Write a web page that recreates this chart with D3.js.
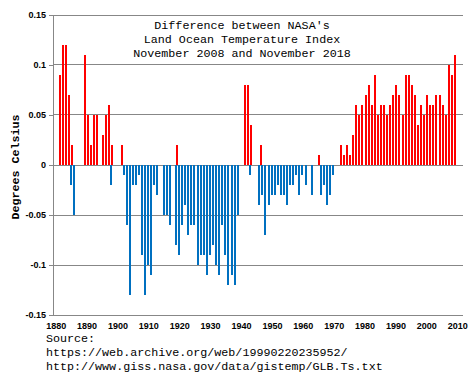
<!DOCTYPE html>
<html>
<head>
<meta charset="utf-8">
<script src="https://cdn.jsdelivr.net/npm/d3@7"></script>
<style>
  html, body { margin: 0; padding: 0; background: #fff; }
  svg { display: block; }
</style>
</head>
<body>
<svg id="chart" width="475" height="375"></svg>
<script>
// ---- data ----
const years = d3.range(1880, 2009); // 129 categories
// positive differences (red series), one per year
const positive = [
  0.09,0.12,0.12,0.07,0.02,0,0,0,0.11,0.05,
  0.02,0.05,0.05,0,0.03,0.05,0.06,0.02,0,0,
  0.02,0,0,0,0,0,0,0,0,0,
  0,0,0,0,0,0,0,0,0.02,0,
  0,0,0,0,0,0,0,0,0,0,
  0,0,0,0,0,0,0,0,0,0,
  0.08,0.08,0.04,0,0,0.02,0,0,0,0,
  0,0,0,0,0,0,0,0,0,0,
  0,0,0,0,0.01,0,0,0,0,0,
  0,0.02,0.01,0.02,0.01,0.03,0.06,0.05,0.06,0.07,
  0.08,0.06,0.09,0.05,0.06,0.06,0.05,0.06,0.07,0.08,
  0.07,0.05,0.09,0.09,0.08,0.07,0.04,0.06,0.05,0.07,
  0.06,0.06,0.07,0.07,0.06,0.05,0.10,0.09,0.11
];
// negative differences (blue series), one per year
const negative = [
  0,0,0,0,-0.02,-0.05,0,0,0,0,
  0,0,0,0,0,0,0,-0.02,0,0,
  0,-0.01,-0.06,-0.13,-0.02,-0.02,-0.01,-0.09,-0.13,-0.10,
  -0.11,-0.02,-0.03,0,-0.05,-0.05,-0.06,0,-0.08,-0.09,
  -0.06,-0.04,-0.07,-0.06,-0.06,-0.10,-0.09,-0.09,-0.11,-0.09,
  -0.08,-0.10,-0.11,-0.06,-0.09,-0.12,-0.11,-0.12,-0.05,0,
  0,0,-0.01,0,0,-0.04,-0.03,-0.07,-0.04,-0.03,
  -0.03,-0.02,-0.03,-0.03,-0.04,-0.02,-0.02,-0.01,-0.03,-0.01,
  -0.02,0,-0.03,0,0,-0.03,-0.02,-0.04,-0.03,-0.01,
  0,0,0,0,0,0,0,0,0,0,
  0,0,0,0,0,0,0,0,0,0,
  0,0,0,0,0,0,0,0,0,0,
  0,0,0,0,0,0,0,0,0
];
const yTicks = [-0.15, -0.1, -0.05, 0, 0.05, 0.1, 0.15];
const yTickLabels = ["-0.15", "-0.1", "-0.05", "0", "0.05", "0.1", "0.15"];
const xTickYears = d3.range(1880, 2011, 10);
const titleLines = ["Difference between NASA's", "Land Ocean Temperature Index", "November 2008 and November 2018"];
const yTitle = "Degrees Celsius";
const sourceLines = ["Source:", "https://web.archive.org/web/19990220235952/", "http://www.giss.nasa.gov/data/gistemp/GLB.Ts.txt"];

// ---- layout ----
const svg = d3.select("#chart");
const plotLeft = 53, plotRight = 463;
const y = d3.scaleLinear().domain([-0.15, 0.15]).range([314.5, 14.5]);
const xBand = d3.scaleBand().domain(years).range([57.7, 57.7 + 129 * 3.086]).paddingInner(0).paddingOuter(0);
const xSub = d3.scalePoint().domain(["neg", "pos"]).range([0, 1.3]);
const xLabel = d3.scaleLinear().domain([1880, 2010]).range([55.7, 457.2]);
const barW = 2;

const mono = "'Liberation Mono', 'Courier New', monospace";
const sans = "'Liberation Sans', Arial, sans-serif";

// gridlines
svg.append("g").selectAll("line").data(yTicks).join("line")
  .attr("x1", plotLeft).attr("x2", plotRight)
  .attr("y1", d => Math.round(y(d))).attr("y2", d => Math.round(y(d)))
  .attr("stroke", "#878787").attr("stroke-width", 1).attr("shape-rendering", "crispEdges");

// y axis
const yAxis = d3.axisLeft(y).tickValues(yTicks)
  .tickFormat((d, i) => yTickLabels[i]).tickSize(4).tickPadding(3);
const gy = svg.append("g").attr("transform", `translate(${plotLeft},0)`).call(yAxis);
gy.selectAll("path, line").attr("stroke", "#878787").attr("shape-rendering", "crispEdges");
gy.select(".domain").attr("d", `M0,${y(0.15)}V${y(-0.15)}`);
gy.selectAll("text").attr("font-family", sans).attr("font-size", 9).attr("font-weight", "bold").attr("fill", "#000");

// x axis labels
const xAxis = d3.axisBottom(xLabel).tickValues(xTickYears).tickFormat(d3.format("d")).tickSize(0).tickPadding(9);
const gx = svg.append("g").attr("transform", `translate(0,314)`).call(xAxis);
gx.select(".domain").remove();
gx.selectAll("text").attr("font-family", sans).attr("font-size", 9).attr("font-weight", "bold").attr("fill", "#000");

// bars
const bars = svg.append("g").attr("shape-rendering", "crispEdges");
bars.selectAll("rect.pos").data(years.map((yr, i) => ({yr, v: positive[i]})).filter(d => d.v > 0))
  .join("rect").attr("class", "pos")
  .attr("x", d => xBand(d.yr) + xSub("pos"))
  .attr("width", barW)
  .attr("y", d => y(d.v))
  .attr("height", d => y(0) - y(d.v))
  .attr("fill", "#FF0000");
bars.selectAll("rect.neg").data(years.map((yr, i) => ({yr, v: negative[i]})).filter(d => d.v < 0))
  .join("rect").attr("class", "neg")
  .attr("x", d => xBand(d.yr) + xSub("neg"))
  .attr("width", barW)
  .attr("y", y(0))
  .attr("height", d => y(d.v) - y(0))
  .attr("fill", "#0070C0");

// title
svg.append("g").selectAll("text").data(titleLines).join("text")
  .attr("x", 242).attr("y", (d, i) => 29 + i * 14)
  .attr("text-anchor", "middle")
  .attr("font-family", mono).attr("font-size", 11.7)
  .attr("fill", "#000").text(d => d);

// y title
svg.append("text")
  .attr("transform", "translate(19,167) rotate(-90)")
  .attr("text-anchor", "middle")
  .attr("font-family", mono).attr("font-size", 11.7).attr("font-weight", "bold")
  .attr("fill", "#000").text(yTitle);

// source
svg.append("g").selectAll("text").data(sourceLines).join("text")
  .attr("x", 46).attr("y", (d, i) => 341.5 + i * 14)
  .attr("font-family", mono).attr("font-size", 11.7)
  .attr("fill", "#000").text(d => d);
</script>
</body>
</html>
